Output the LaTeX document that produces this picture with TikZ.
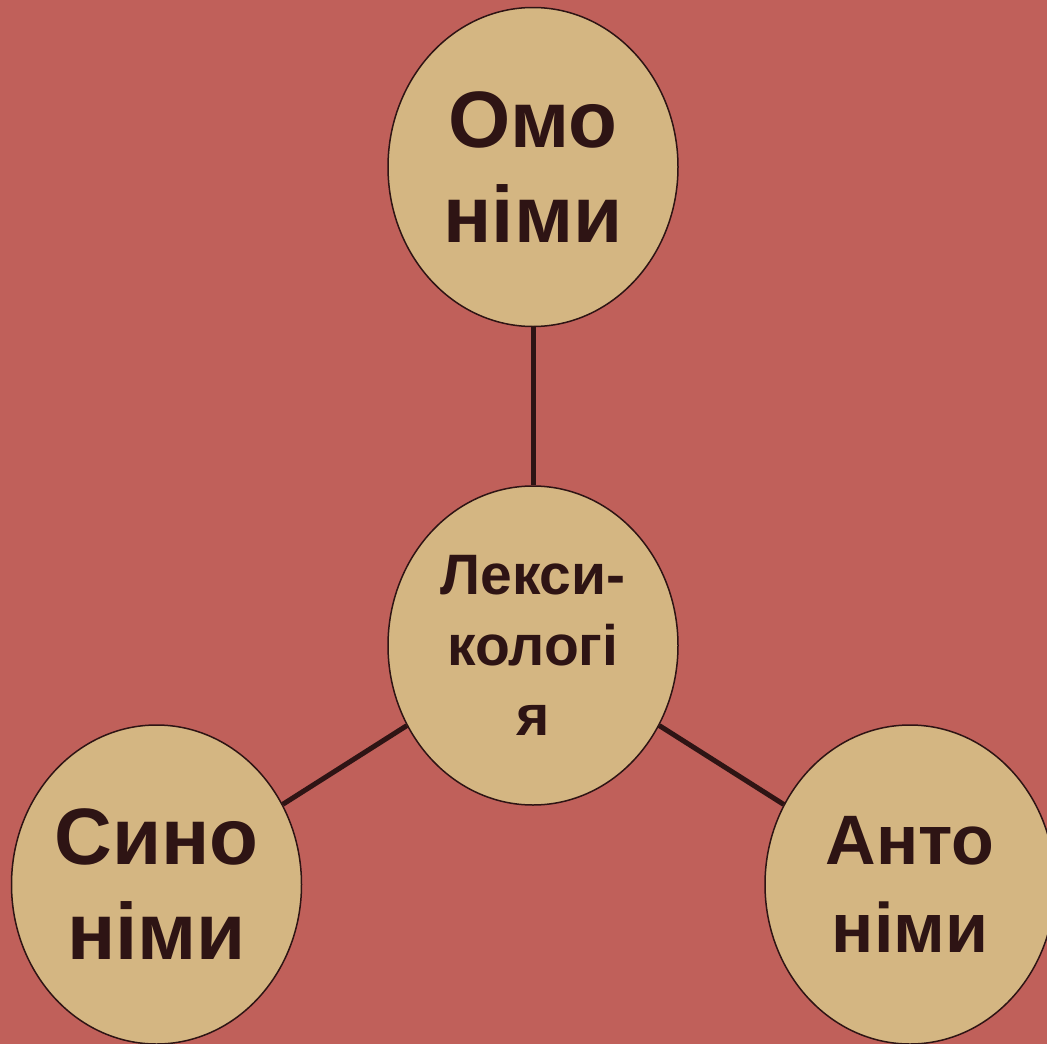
\documentclass[tikz,border=0pt]{standalone}
\usepackage{fontspec}
\setmainfont{Liberation Sans}
\usetikzlibrary{shapes.geometric}
\definecolor{bgred}{RGB}{192,96,90}
\definecolor{bubble}{RGB}{212,182,130}
\definecolor{ink}{RGB}{46,20,20}
\tikzset{
  bubblenode/.style={ellipse, draw=ink, line width=1.5pt, fill=bubble,
    minimum width=290pt, minimum height=319pt, inner sep=0pt,
    align=center, text=ink, font=\bfseries},
  conn/.style={draw=ink, line width=5pt}
}
\begin{document}
\begin{tikzpicture}[x=1pt,y=-1pt]
\useasboundingbox (0,0) rectangle (1047,1044);
\fill[bgred] (0,0) rectangle (1047,1044);
\clip (0,0) rectangle (1047,1044);
\node[bubblenode, font=\bfseries\fontsize{80}{95}\selectfont] (omo) at (533,167) {Омо\\німи};
\node[bubblenode, font=\bfseries\fontsize{57}{70.5}\selectfont] (lex) at (533,645.5) {Лекси-\\кологі\\я};
\node[bubblenode, font=\bfseries\fontsize{80}{95}\selectfont] (syn) at (156.5,884.5) {Сино\\німи};
\node[bubblenode, font=\bfseries\fontsize{70}{88}\selectfont] (ant) at (910,884.5) {Анто\\німи};
\draw[conn] (omo) -- (lex);
\draw[conn] (lex) -- (syn);
\draw[conn] (lex) -- (ant);
\end{tikzpicture}
\end{document}
